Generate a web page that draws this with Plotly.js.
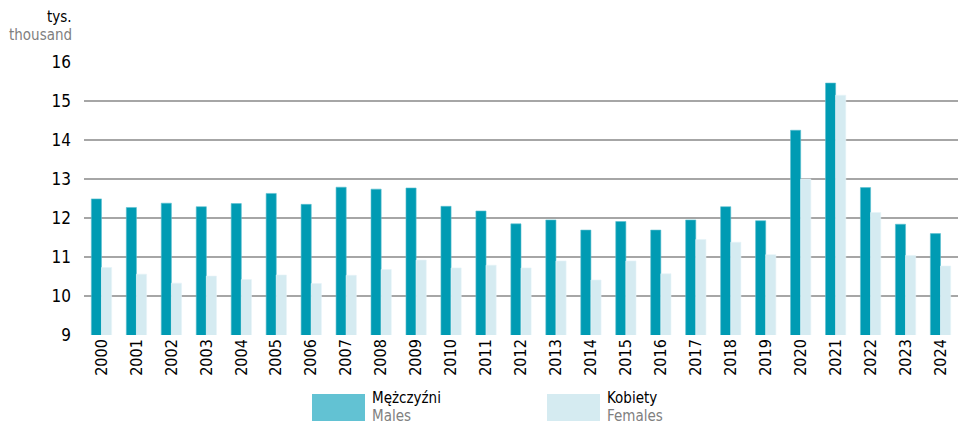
<!DOCTYPE html>
<html>
<head>
<meta charset="utf-8">
<script src="https://cdn.plot.ly/plotly-3.0.1.min.js"></script>
<style>html,body{margin:0;padding:0;background:#fff}#chart{width:958px;height:425px}</style>
</head>
<body>
<div id="chart"></div>
<script>
const years = ["2000","2001","2002","2003","2004","2005","2006","2007","2008","2009","2010","2011","2012","2013","2014","2015","2016","2017","2018","2019","2020","2021","2022","2023","2024"];
const males = [12.49,12.27,12.38,12.29,12.37,12.63,12.35,12.79,12.74,12.77,12.30,12.18,11.85,11.95,11.69,11.91,11.69,11.95,12.29,11.93,14.25,15.46,12.78,11.84,11.60];
const females = [10.73,10.56,10.33,10.51,10.42,10.54,10.32,10.53,10.68,10.92,10.72,10.79,10.72,10.90,10.41,10.90,10.57,11.45,11.38,11.06,13.00,15.15,12.14,11.04,10.77];
const yTicks = [9,10,11,12,13,14,15,16];
const FONT = '"DejaVu Sans Condensed", "Liberation Sans Narrow", sans-serif';

const traces = [
  {type:'bar', x:years, y:males, name:'Mężczyźni', marker:{color:'#009bb3', line:{color:'#5cc0d0', width:0.6}}, showlegend:false, hoverinfo:'y'},
  {type:'bar', x:years, y:females, name:'Kobiety', marker:{color:'#d5ebf1', line:{color:'#e6f4f8', width:0.6}}, showlegend:false, hoverinfo:'y'}
];

const layout = {
  width:958, height:425,
  margin:{l:84, r:0, t:62, b:90},
  paper_bgcolor:'#fff', plot_bgcolor:'#fff',
  barmode:'group', bargap:0.42, bargroupgap:0,
  font:{family:FONT, color:'#000'},
  xaxis:{type:'category', tickangle:-90, tickfont:{size:16, family:FONT, color:'#000'}, showgrid:false, ticks:'', showline:false, zeroline:false},
  yaxis:{range:[9,16], tickvals:yTicks, ticktext:yTicks.map(String), tickfont:{size:17, family:FONT, color:'#000'}, showgrid:true, gridcolor:'#a6a6a6', gridwidth:1.3, zeroline:false, showline:false, ticks:'', ticklabelstandoff:12, fixedrange:true},
  shapes:[
    {type:'rect', xref:'paper', yref:'paper', x0:(312-84)/874, x1:(365-84)/874, y0:-(394-335)/273, y1:-(421-335)/273, fillcolor:'#62c2d3', line:{width:0}},
    {type:'rect', xref:'paper', yref:'paper', x0:(547-84)/874, x1:(600-84)/874, y0:-(394-335)/273, y1:-(421-335)/273, fillcolor:'#d5ebf1', line:{width:0}}
  ],
  annotations:[
    {xref:'paper', yref:'paper', x:-(84-74)/874, y:1+(62-17)/273, xanchor:'right', yanchor:'middle', text:'tys.', showarrow:false, font:{size:15, family:FONT, color:'#000'}},
    {xref:'paper', yref:'paper', x:-(84-74)/874, y:1+(62-35)/273, xanchor:'right', yanchor:'middle', text:'thousand', showarrow:false, font:{size:15, family:FONT, color:'#808080'}},
    {xref:'paper', yref:'paper', x:(370-84)/874, y:-(398-335)/273, xanchor:'left', yanchor:'middle', text:'Mężczyźni', showarrow:false, font:{size:15, family:FONT, color:'#000'}},
    {xref:'paper', yref:'paper', x:(370-84)/874, y:-(416-335)/273, xanchor:'left', yanchor:'middle', text:'Males', showarrow:false, font:{size:15, family:FONT, color:'#808080'}},
    {xref:'paper', yref:'paper', x:(605-84)/874, y:-(398-335)/273, xanchor:'left', yanchor:'middle', text:'Kobiety', showarrow:false, font:{size:15, family:FONT, color:'#000'}},
    {xref:'paper', yref:'paper', x:(605-84)/874, y:-(416-335)/273, xanchor:'left', yanchor:'middle', text:'Females', showarrow:false, font:{size:15, family:FONT, color:'#808080'}}
  ]
};

Plotly.newPlot('chart', traces, layout, {staticPlot:true, displayModeBar:false});
</script>
</body>
</html>
